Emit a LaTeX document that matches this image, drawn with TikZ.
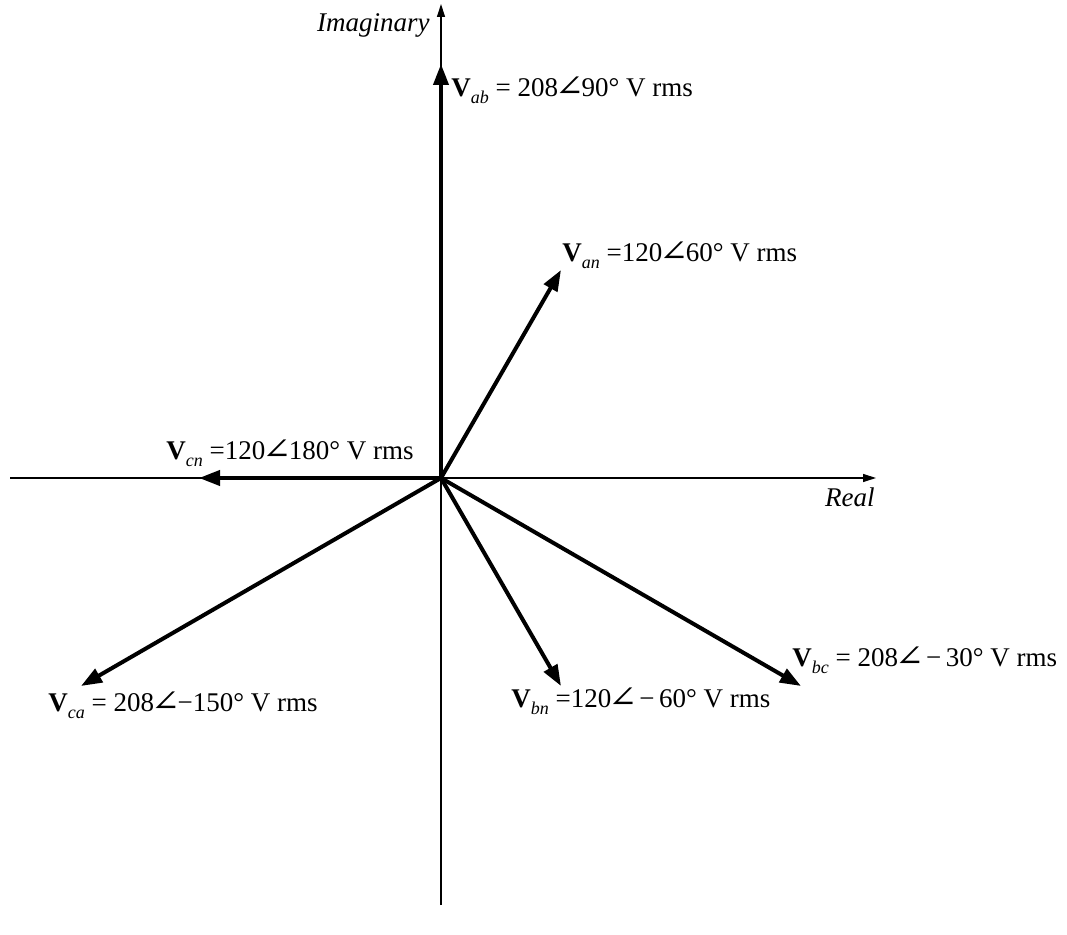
\documentclass[tikz,border=0pt]{standalone}
\usepackage{graphicx}
\usepackage{fontspec}
\setmainfont{Liberation Serif}
\newfontfamily\angfont{DejaVu Serif}
\usetikzlibrary{arrows.meta}

% phasor name with bold V and small italic subscript
\newcommand{\phname}[1]{\textbf{V}\raisebox{-0.55ex}{\fontsize{9}{9}\selectfont\itshape #1}}
\newcommand{\ang}{\kern-0.12em\scalebox{1.3}[1.1]{\angfont\char"2220}\kern-0.1em}

\begin{document}
\begin{tikzpicture}[x=0.5pt,y=-0.5pt,font=\fontsize{13.5}{16}\selectfont,
      axis/.style={line width=0.6pt,-{Triangle[length=6.5pt,width=4pt]}},
      vec/.style={line width=2pt,-{Triangle[length=10.5pt,width=7.5pt]}},
      lbl/.style={inner sep=0pt,anchor=base west}]
    \useasboundingbox (0,0) rectangle (1067,935);
    \coordinate (O) at (441,478);
    \coordinate (xl) at (10,478);
    \coordinate (xr) at (876,478);
    \coordinate (yb) at (441,905);
    \coordinate (yt) at (441,4);
    \draw[axis] (xl) -- (xr);
    \draw[axis] (yb) -- (yt);
    \node[inner sep=0pt,anchor=base east] (im) at (430,32) {\itshape Imaginary};
    \node[inner sep=0pt,anchor=base east] (re) at (875,507) {\itshape Real};
    % phasor tips
    \coordinate (ab) at (441,64);
    \coordinate (an) at (561,270);
    \coordinate (cn) at (199,478);
    \coordinate (bn) at (561,686);
    \coordinate (bc) at (801,686);
    \coordinate (ca) at (81,686);
    \foreach \tip in {ab,an,cn,bn,bc,ca} {
      \draw[vec] (O) -- (\tip);
    }
    \node[lbl] (labab) at (451,97) {\phname{ab} = 208\ang 90° V rms};
    \node[lbl] (laban) at (562,262) {\phname{an} =120\ang 60° V rms};
    \node[lbl] (labcn) at (166,460) {\phname{cn} =120\ang 180° V rms};
    \node[lbl] (labca) at (48,712) {\phname{ca} = 208\ang −150° V rms};
    \node[lbl] (labbn) at (511,708) {\phname{bn} =120\ang\,−\,60° V rms};
    \node[lbl] (labbc) at (792,667) {\phname{bc} = 208\ang\,−\,30° V rms};
  \end{tikzpicture}
\end{document}
